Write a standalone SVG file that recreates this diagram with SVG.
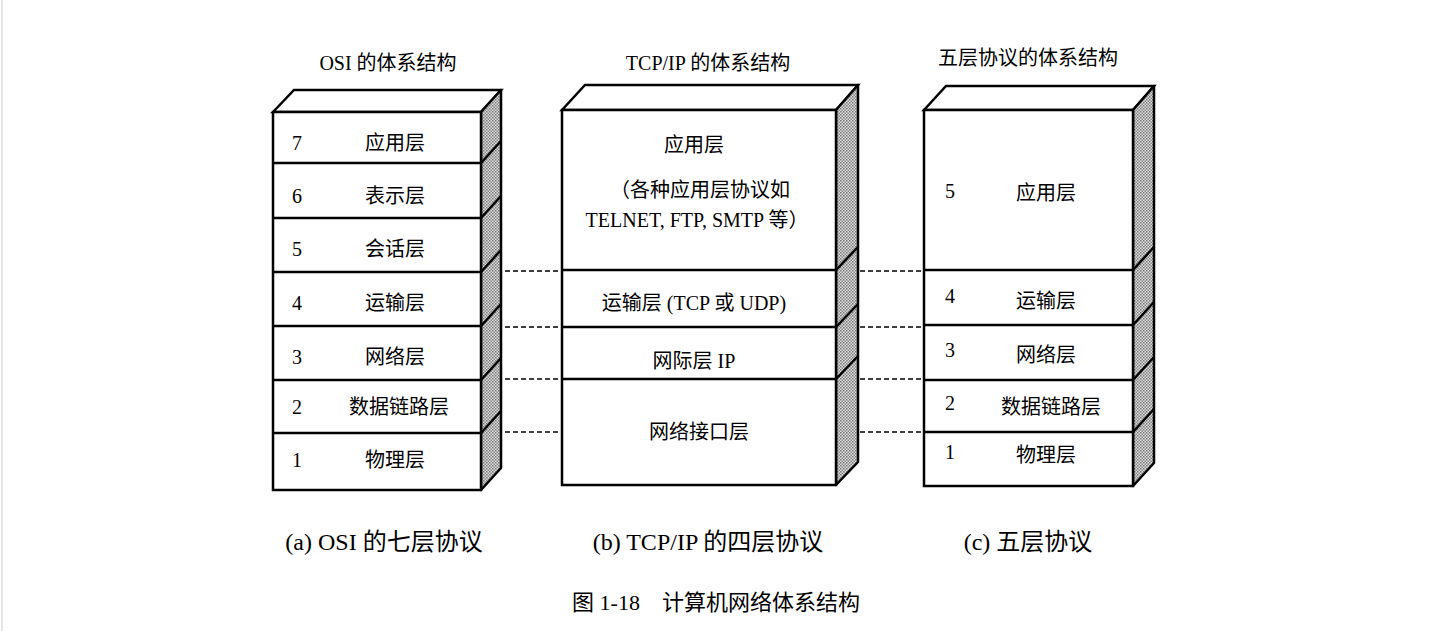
<svg xmlns="http://www.w3.org/2000/svg" width="1449" height="631" viewBox="0 0 1449 631">
<style>
text{font-family:"Liberation Serif","Noto Sans CJK SC",serif;font-size:20px;fill:#000}
.f{fill:#fff;stroke:#000;stroke-width:2.5}
.s{fill:url(#dots);stroke:#000;stroke-width:2.5;stroke-linejoin:round}
.l{stroke:#000;stroke-width:2.5}
.d{stroke:#000;stroke-width:1.3;stroke-dasharray:5 3}
.c{text-anchor:middle}
</style>
<defs>
<pattern id="dots" width="3" height="3" patternUnits="userSpaceOnUse">
<rect width="3" height="3" fill="#ddd"/><rect width="1.5" height="1.5" fill="#777"/><rect x="1.5" y="1.5" width="1.5" height="1.5" fill="#888"/>
</pattern>
</defs>
<rect width="1449" height="631" fill="#fff"/>
<line x1="2" y1="0" x2="2" y2="631" stroke="#ccc"/>
<g id="connectors">
<line class="d" x1="481" y1="271" x2="562" y2="271"/><line class="d" x1="836" y1="271" x2="924" y2="271"/>
<line class="d" x1="481" y1="327" x2="562" y2="327"/><line class="d" x1="836" y1="327" x2="924" y2="327"/>
<line class="d" x1="481" y1="379" x2="562" y2="379"/><line class="d" x1="836" y1="379" x2="924" y2="379"/>
<line class="d" x1="481" y1="432" x2="562" y2="432"/><line class="d" x1="836" y1="432" x2="924" y2="432"/>
</g>
<g id="osi">
<text class="c" x="388" y="70">OSI 的体系结构</text>
<polygon class="f" points="273,112 294,90 501,90 481,112"/>
<polygon class="s" points="481,112 501,90 501,468 481,490"/>
<rect class="f" x="273" y="112" width="208" height="378"/>
<g class="l">
<line x1="273" y1="163" x2="481" y2="163"/><line x1="273" y1="218" x2="481" y2="218"/><line x1="273" y1="272" x2="481" y2="272"/>
<line x1="273" y1="326" x2="481" y2="326"/><line x1="273" y1="380" x2="481" y2="380"/><line x1="273" y1="433" x2="481" y2="433"/>
<line x1="481" y1="163" x2="501" y2="141"/><line x1="481" y1="218" x2="501" y2="196"/><line x1="481" y1="272" x2="501" y2="250"/>
<line x1="481" y1="326" x2="501" y2="304"/><line x1="481" y1="380" x2="501" y2="358"/><line x1="481" y1="433" x2="501" y2="411"/>
</g>
<text x="292" y="150">7</text><text class="c" x="395" y="150">应用层</text>
<text x="292" y="203">6</text><text class="c" x="395" y="203">表示层</text>
<text x="292" y="256">5</text><text class="c" x="395" y="256">会话层</text>
<text x="292" y="310">4</text><text class="c" x="395" y="310">运输层</text>
<text x="292" y="364">3</text><text class="c" x="395" y="364">网络层</text>
<text x="292" y="414">2</text><text class="c" x="399" y="414">数据链路层</text>
<text x="292" y="467">1</text><text class="c" x="395" y="467">物理层</text>
<text class="c" x="384" y="550" style="font-size:24px">(a) OSI 的七层协议</text>
</g>
<g id="tcpip">
<text class="c" x="708" y="70">TCP/IP 的体系结构</text>
<polygon class="f" points="562,110 585,85 858,85 836,110"/>
<polygon class="s" points="836,110 858,85 858,462 836,485"/>
<rect class="f" x="562" y="110" width="274" height="375"/>
<g class="l">
<line x1="562" y1="270" x2="836" y2="270"/><line x1="562" y1="327" x2="836" y2="327"/><line x1="562" y1="379" x2="836" y2="379"/>
<line x1="836" y1="270" x2="858" y2="247"/><line x1="836" y1="327" x2="858" y2="304"/><line x1="836" y1="379" x2="858" y2="356"/>
</g>
<text class="c" x="694" y="152">应用层</text>
<text class="c" x="700" y="197">（各种应用层协议如</text>
<text class="c" x="697" y="227">TELNET, FTP, SMTP 等）</text>
<text class="c" x="694" y="310">运输层 (TCP 或 UDP)</text>
<text class="c" x="694" y="368">网际层 IP</text>
<text class="c" x="699" y="439">网络接口层</text>
<text class="c" x="708" y="550" style="font-size:24px">(b) TCP/IP 的四层协议</text>
</g>
<g id="five">
<text class="c" x="1028" y="65">五层协议的体系结构</text>
<polygon class="f" points="924,110 946,86 1154,86 1133,110"/>
<polygon class="s" points="1133,110 1154,86 1154,463 1133,486"/>
<rect class="f" x="924" y="110" width="209" height="376"/>
<g class="l">
<line x1="924" y1="270" x2="1133" y2="270"/><line x1="924" y1="325" x2="1133" y2="325"/><line x1="924" y1="380" x2="1133" y2="380"/><line x1="924" y1="432" x2="1133" y2="432"/>
<line x1="1133" y1="270" x2="1154" y2="247"/><line x1="1133" y1="325" x2="1154" y2="302"/><line x1="1133" y1="380" x2="1154" y2="357"/><line x1="1133" y1="432" x2="1154" y2="409"/>
</g>
<text x="945" y="198">5</text><text class="c" x="1046" y="200">应用层</text>
<text x="945" y="303">4</text><text class="c" x="1046" y="308">运输层</text>
<text x="945" y="357">3</text><text class="c" x="1046" y="362">网络层</text>
<text x="945" y="410">2</text><text class="c" x="1051" y="414">数据链路层</text>
<text x="945" y="459">1</text><text class="c" x="1046" y="462">物理层</text>
<text class="c" x="1028" y="550" style="font-size:24px">(c) 五层协议</text>
</g>
<text class="c" x="716" y="610" style="font-size:22px">图 1-18　计算机网络体系结构</text>
</svg>
